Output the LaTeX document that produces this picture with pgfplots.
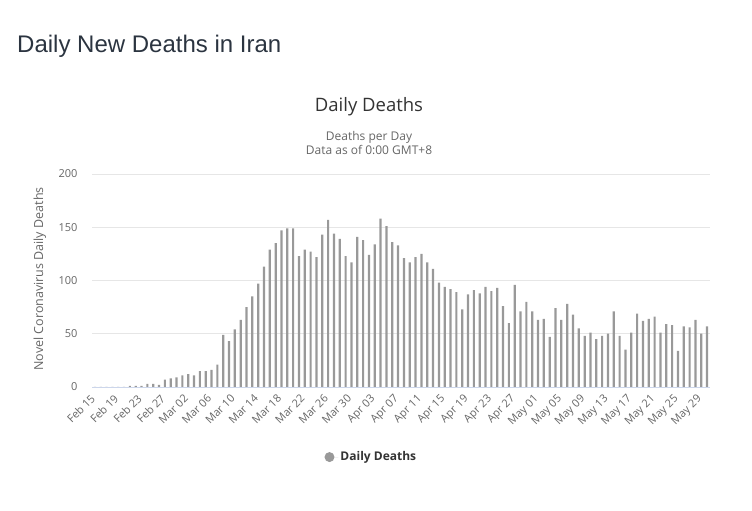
\documentclass[border=0pt]{standalone}
\usepackage{pgfplots}
\pgfplotsset{compat=1.18}
\usepackage{pgfplotstable}
\usepackage{fontspec}
\setmainfont{Open Sans}
\newfontfamily\titlefont{Liberation Sans}
\definecolor{barc}{HTML}{999999}
\definecolor{gridc}{HTML}{E6E6E6}
\definecolor{axisc}{HTML}{CCD6EB}
\definecolor{labc}{HTML}{666666}
\definecolor{titc}{HTML}{333333}
\definecolor{maintc}{HTML}{2B3440}

\pgfplotstableread{
idx val
0 0
1 0
2 0
3 0
4 0
5 0
6 1
7 1
8 1
9 3
10 3
11 2
12 7
13 8
14 9
15 11
16 12
17 11
18 15
19 15
20 16
21 21
22 49
23 43
24 54
25 63
26 75
27 85
28 97
29 113
30 129
31 135
32 147
33 149
34 149
35 123
36 129
37 127
38 122
39 143
40 157
41 144
42 139
43 123
44 117
45 141
46 138
47 124
48 134
49 158
50 151
51 136
52 133
53 121
54 117
55 122
56 125
57 117
58 111
59 98
60 94
61 92
62 89
63 73
64 87
65 91
66 88
67 94
68 90
69 93
70 76
71 60
72 96
73 71
74 80
75 71
76 63
77 64
78 47
79 74
80 63
81 78
82 68
83 55
84 48
85 51
86 45
87 48
88 50
89 71
90 48
91 35
92 51
93 69
94 62
95 64
96 66
97 51
98 59
99 58
100 34
101 57
102 56
103 63
104 50
105 57
}\deaths

\begin{document}
\begin{tikzpicture}[x=1pt,y=1pt]
\path[use as bounding box] (0,0) rectangle (752,511);
\node[anchor=base west, inner sep=0, text=maintc, font=\titlefont\fontsize{24}{28}\selectfont] at (17,458) {Daily New Deaths in Iran};
\node[anchor=base, inner sep=0, text=titc, font=\fontsize{18.5}{21}\selectfont] at (369,399) {Daily Deaths};
\node[anchor=base, inner sep=0, text=labc, font=\fontsize{12}{14}\selectfont] at (369,370) {Deaths per Day};
\node[anchor=base, inner sep=0, text=labc, font=\fontsize{12}{14}\selectfont] at (369,356.5) {Data as of 0:00 GMT+8};
\node[rotate=90, inner sep=0, text=labc, font=\fontsize{12.5}{14}\selectfont] at (40,232) {Novel Coronavirus Daily Deaths};
\begin{axis}[
  at={(92pt,124pt)}, anchor=south west,
  scale only axis, width=618pt, height=213pt,
  xmin=-0.5, xmax=105.5, ymin=0, ymax=200,
  axis x line=bottom, axis y line=left,
  x axis line style={draw=axisc, line width=0.8pt, -},
  y axis line style={draw=none},
  major tick length=0pt,
  ytick={0,50,...,200},
  xtick={0,4,...,104},
  xticklabels={Feb 15,Feb 19,Feb 23,Feb 27,Mar 02,Mar 06,Mar 10,Mar 14,Mar 18,Mar 22,Mar 26,Mar 30,Apr 03,Apr 07,Apr 11,Apr 15,Apr 19,Apr 23,Apr 27,May 01,May 05,May 09,May 13,May 17,May 21,May 25,May 29},
  ymajorgrids, grid style={draw=gridc, line width=0.8pt},
  /pgf/number format/assume math mode=true,
  yticklabel style={font=\fontsize{11}{13}\selectfont, text=labc, anchor=east, xshift=-11pt},
  xticklabel style={font=\fontsize{11}{13}\selectfont, text=labc, xshift=-5pt, yshift=-5pt, rotate=45, anchor=north east, inner sep=1pt},
  legend style={at={(0.452,-0.329)}, anchor=center, draw=none, fill=none, font=\bfseries\fontsize{12}{14}\selectfont, text=titc},
  legend image code/.code={\fill[barc] (0pt,0pt) circle (5pt); \path (0pt,0pt) -- (9pt,0pt);},
  legend entries={Daily Deaths},
]
\addplot[ybar, bar width=2.2pt, fill=barc, draw=none] table[x=idx, y=val] {\deaths};
\end{axis}
\end{tikzpicture}
\end{document}
